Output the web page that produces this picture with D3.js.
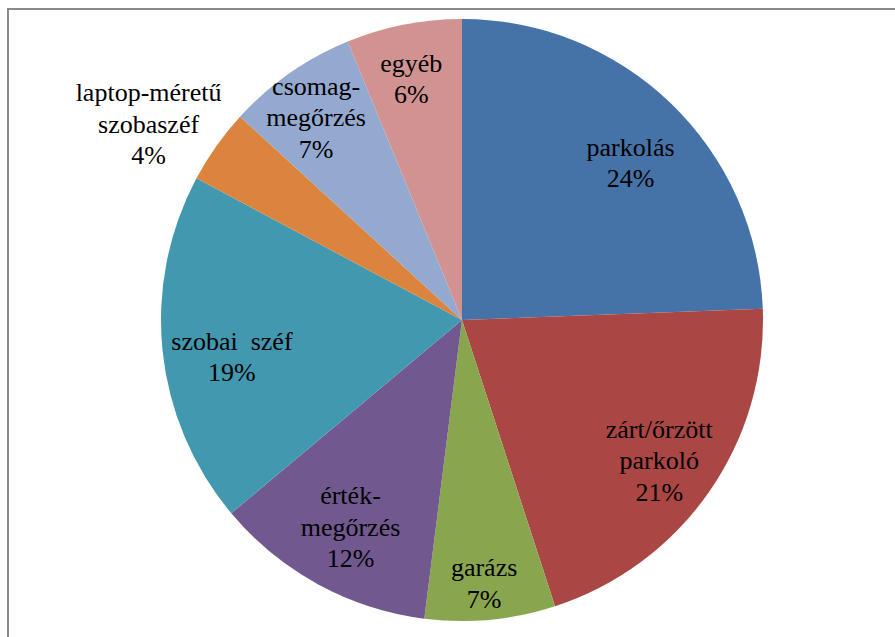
<!DOCTYPE html>
<html>
<head>
<meta charset="utf-8">
<script src="https://cdn.jsdelivr.net/npm/d3@7"></script>
<style>
  html, body { margin: 0; padding: 0; background: #fff; }
  svg { display: block; }
</style>
</head>
<body>
<div id="chart"></div>
<script>
// categories (line breaks as in the picture), share in percent, slice colours
const categories = [
    "parkolás",
    "zárt/őrzött\nparkoló",
    "garázs",
    "érték-\nmegőrzés",
    "szobai\u00A0 széf",
    "laptop-méretű\nszobaszéf",
    "csomag-\nmegőrzés",
    "egyéb"
];
const values = [24.4, 20.6, 7.0, 11.9, 18.9, 4.0, 7.0, 6.2];
const colors = ["#4572A7", "#AA4643", "#89A54E", "#71588F", "#4198AF", "#DB843D", "#93A9CF", "#D19392"];

const width = 895, height = 637;
const cx = 462, cy = 320, radius = 301;
const lineH = 31.5;

// label placement: fraction of radius and a small angle nudge (degrees) per slice,
// laptop sits outside the pie
const labelFrac = [0.767, 0.804, 0.877, 0.781, 0.774, 1.229, 0.83, 0.82];
const labelNudge = [3, 0.5, 0.6, -0.3, -3.1, -3.2, -0.8, -0.7];

const svg = d3.select("#chart").append("svg")
    .attr("width", width)
    .attr("height", height);

// frame: only top and left edges show
svg.append("path")
    .attr("d", `M8,${height} L8,9 L${width},9`)
    .attr("fill", "none")
    .attr("stroke", "#8a8a8a")
    .attr("stroke-width", 2);

const pie = d3.pie().sort(null).value(d => d)(values);
const arc = d3.arc().innerRadius(0).outerRadius(radius);

const g = svg.append("g").attr("transform", `translate(${cx},${cy})`);

g.selectAll("path.slice")
    .data(pie)
    .join("path")
    .attr("class", "slice")
    .attr("d", arc)
    .attr("fill", (d, i) => colors[i]);

// one text element per label line
const lineData = [];
pie.forEach((d, i) => {
    const lines = categories[i].split("\n").concat([Math.round(values[i]) + "%"]);
    const mid = (d.startAngle + d.endAngle) / 2 + labelNudge[i] * Math.PI / 180;
    const r = radius * labelFrac[i];
    const x = Math.sin(mid) * r;
    const y = -Math.cos(mid) * r;
    const top = y - (lines.length - 1) * lineH / 2 + 9;
    lines.forEach((t, k) => lineData.push({ text: t, x: x, y: top + k * lineH }));
});

g.selectAll("text")
    .data(lineData)
    .join("text")
    .attr("x", d => d.x)
    .attr("y", d => d.y)
    .attr("font-family", "Liberation Serif")
    .attr("font-size", 26)
    .attr("text-anchor", "middle")
    .attr("fill", "#000")
    .text(d => d.text);
</script>
</body>
</html>
